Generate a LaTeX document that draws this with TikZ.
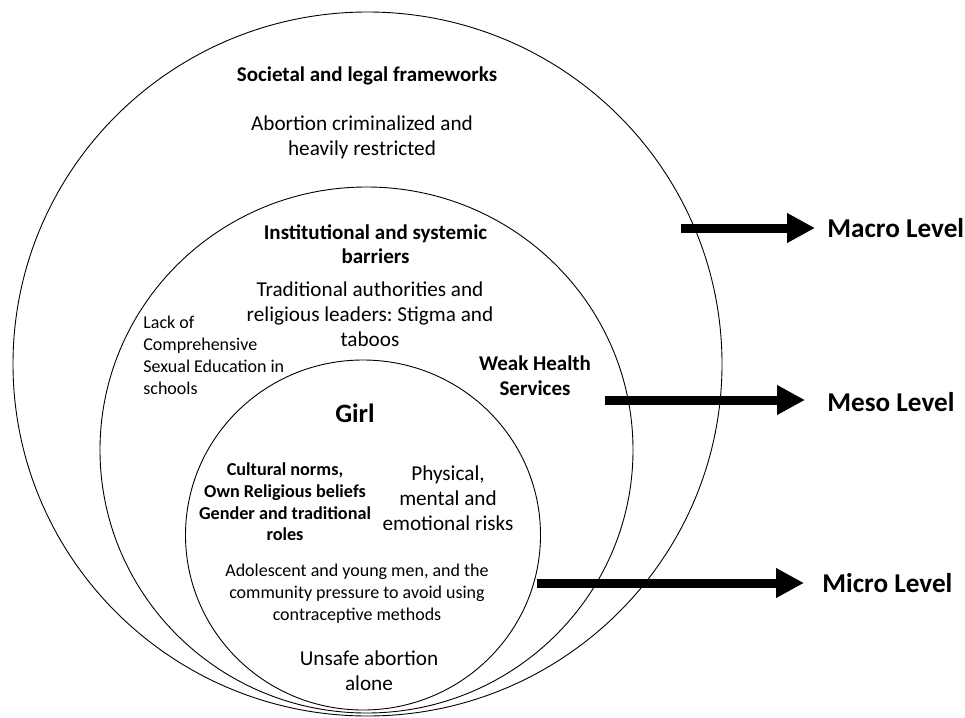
\documentclass[tikz,border=0pt]{standalone}
\usepackage{fontspec}
\setmainfont{Carlito}
\frenchspacing
\usetikzlibrary{arrows.meta,positioning}
\tikzset{every picture/.style={line width=0.75pt}}

\begin{document}
\begin{tikzpicture}[x=1pt,y=-1pt,
    ring/.style={line width=0.9pt},
    txt/.style={align=center, inner sep=0pt, font=\fontsize{21.2}{25.2}\selectfont},
    head/.style={align=center, inner sep=0pt, font=\fontsize{21}{24.5}\selectfont\bfseries},
    small/.style={align=center, inner sep=0pt, font=\fontsize{18}{21.7}\selectfont},
    smallbold/.style={align=center, inner sep=0pt, font=\fontsize{18.2}{21.7}\selectfont\bfseries},
    level/.style={anchor=west, inner sep=0pt, font=\fontsize{27.2}{30}\selectfont\bfseries},
    levelarrow/.style={line width=9pt, -{Triangle[length=28pt,width=28pt]}}]
    \useasboundingbox (0,0) rectangle (965,717);

    \draw[ring] (367.5,364) ellipse [x radius=354.5, y radius=352];
    \draw[ring] (366.5,450) ellipse [x radius=266.5, y radius=263];
    \draw[ring] (363,535) ellipse [x radius=177.5, y radius=175];

    \node[head] (societal) at (367,76) {Societal and legal frameworks};
    \node[txt] (abortion) at (362,137.5) {Abortion criminalized and\\heavily restricted};
    \node[head] (institutional) at (375.5,244) {Institutional and systemic\\barriers};
    \node[txt] (traditional) at (370,314) {Traditional authorities and\\religious leaders: Stigma and\\taboos};
    \node[align=left, anchor=north west, inner sep=0pt, font=\fontsize{18}{22}\selectfont] (lackcse) at (143,316) {Lack of\\Comprehensive\\Sexual Education in\\schools};
    \node[head] (weakhealth) at (535,375.5) {Weak Health\\Services};
    \node[inner sep=0pt, font=\fontsize{26.5}{30}\selectfont\bfseries] (girl) at (355,413) {Girl};
    \node[smallbold] (cultural) at (285,502) {Cultural norms,\\Own Religious beliefs\\Gender and traditional\\roles};
    \node[txt] (risks) at (448,498.5) {Physical,\\mental and\\emotional risks};
    \node[small] (pressure) at (357,593.5) {Adolescent and young men, and the\\community pressure to avoid using\\contraceptive methods};
    \node[txt] (unsafe) at (369,671) {Unsafe abortion\\alone};

    \node[level] (macro) at (827,228) {Macro Level};
    \node[level] (meso) at (827,402) {Meso Level};
    \node[level] (micro) at (822,583) {Micro Level};

    \coordinate (macrofrom) at (681,228);
    \coordinate (mesofrom) at (605,400);
    \coordinate (microfrom) at (537,583);

    \draw[levelarrow, shorten >=12pt] (macrofrom) -- (macrofrom -| macro.west);
    \draw[levelarrow, shorten >=22pt] (mesofrom) -- (mesofrom -| meso.west);
    \draw[levelarrow, shorten >=18pt] (microfrom) -- (microfrom -| micro.west);
\end{tikzpicture}
\end{document}
